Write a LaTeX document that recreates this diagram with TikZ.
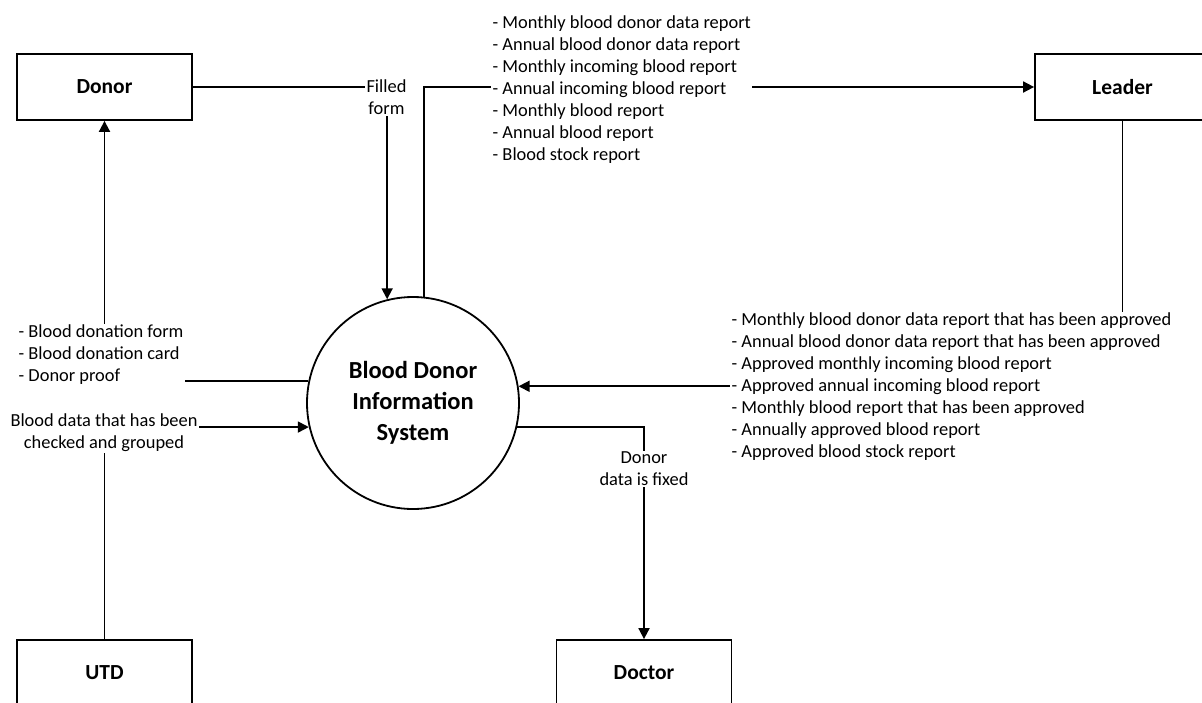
\documentclass[tikz,border=0pt]{standalone}
\usepackage{fontspec}
\setmainfont{Carlito}
\usepackage{tikz}
\usetikzlibrary{arrows.meta, positioning}
\tikzset{
    box/.style={rectangle, minimum width=175pt, minimum height=66pt, align=center, draw=black, line width=1.8pt, font=\fontsize{21.5}{25}\selectfont\bfseries},
    process/.style={circle, draw=black, line width=1.8pt, minimum size=212pt, align=center, font=\fontsize{24.5}{31}\selectfont\bfseries},
    arrow/.style={line width=1.8pt, -{Triangle[length=11pt,width=11pt]}},
    line/.style={line width=1.8pt}
}

\begin{document}
\begin{tikzpicture}[
        x=1pt, y=-1pt,
        % Smaller font for the flow text
        lbl/.style={fill=white, inner sep=1.5pt, align=center, font=\fontsize{18.4}{22}\selectfont},
        lst/.style={fill=white, inner sep=1.5pt, align=left, font=\fontsize{18.4}{22}\selectfont}
    ]
        \clip (0,0) rectangle (1202,702);

        % --- Process ---
        \node (sys) [process] at (413,403) {Blood Donor\\Information\\System};

        % --- External entities ---
        \node (donor) [box] at (104.5,87) {Donor};
        \node (leader) [box] at (1122.5,87) {Leader};
        \node (utd) [box] at (104.5,673) {UTD};
        \node (doctor) [box] at (644,673) {Doctor};

        % --- Flows ---
        \draw [arrow] (donor.east) -| (sys.104);
        \node (filled) [lbl] at (386.5,97) {Filled\\form};

        \draw [arrow] (sys.84) |- (leader.west);
        \node (reports) [lst, anchor=west] at (491,89.5) {- Monthly blood donor data report\\- Annual blood donor data report\\- Monthly incoming blood report\\- Annual incoming blood report\\- Monthly blood report\\- Annual blood report\\- Blood stock report};

        \draw [arrow] (sys.168) -| (donor.south);
        \node (forms) [lst, anchor=west] at (17,355) {- Blood donation form\\- Blood donation card\\- Donor proof};

        \draw [arrow] (utd.north) |- (sys.193);
        \node (checked) [lbl] at (104,432.5) {Blood data that has been\\checked and grouped};

        \draw [arrow] (leader.south) |- (sys.9);
        \node (approved) [lst, anchor=west] at (730,387) {- Monthly blood donor data report that has been approved\\- Annual blood donor data report that has been approved\\- Approved monthly incoming blood report\\- Approved annual incoming blood report\\- Monthly blood report that has been approved\\- Annually approved blood report\\- Approved blood stock report};

        \draw [arrow] (sys.347) -| (doctor.north);
        \node (fixed) [lbl] at (644,469) {Donor\\data is fixed};

    \end{tikzpicture}
\end{document}
